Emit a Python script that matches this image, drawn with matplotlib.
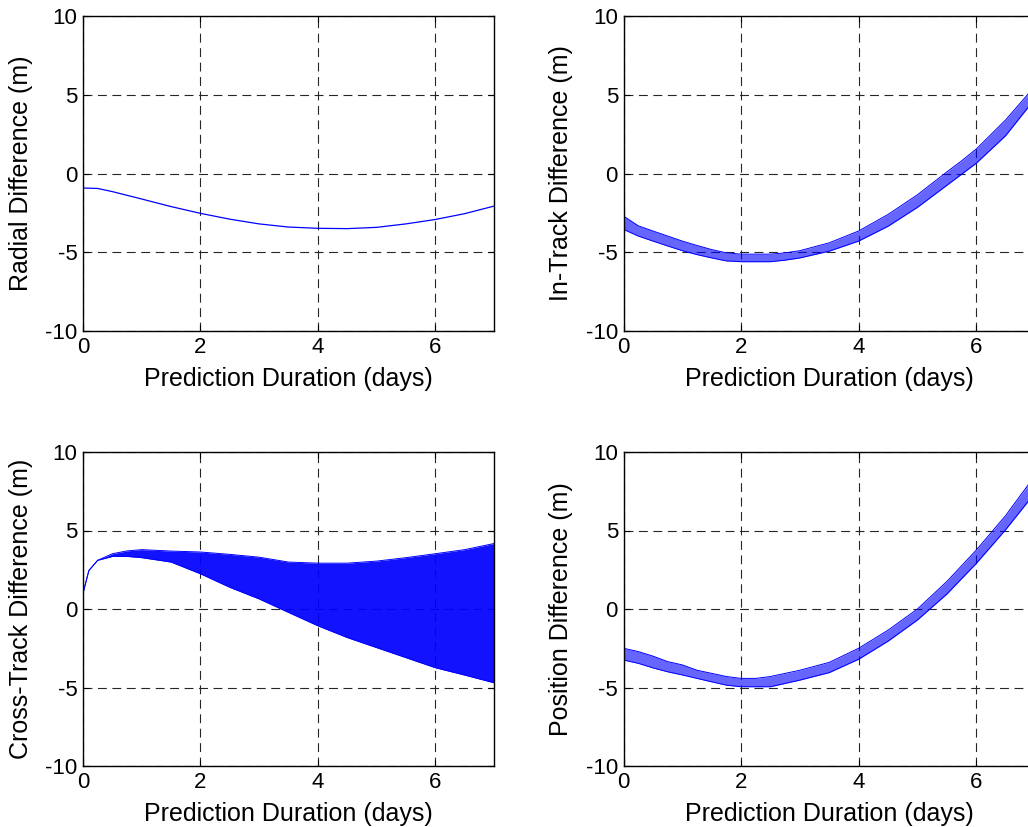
import matplotlib
matplotlib.use('Agg')
import matplotlib.pyplot as plt

plt.rcParams['font.family'] = ['Liberation Sans', 'DejaVu Sans']
plt.rcParams['axes.unicode_minus'] = False

# radial difference (m)
radial_days = [0, 0.25, 0.5, 1, 1.5, 2, 2.5, 3, 3.5, 4, 4.5, 5, 5.5, 6, 6.5, 7]
radial = [-0.92, -0.95, -1.15, -1.62, -2.1, -2.53, -2.9, -3.2, -3.4, -3.48, -3.5, -3.42, -3.2, -2.92, -2.55, -2.07]

# in-track difference (m): upper / lower edge of the oscillation band
intrack_days = [0, 0.25, 0.5, 0.75, 1, 1.25, 1.5, 1.75, 2, 2.5, 2.75, 3, 3.5, 4, 4.5, 5, 5.5, 5.75, 6, 6.5, 7]
intrack_hi = [-2.7, -3.32, -3.65, -3.97, -4.29, -4.57, -4.83, -5.04, -5.12, -5.12, -5.04, -4.9, -4.4, -3.65,
              -2.6, -1.35, 0.1, 0.8, 1.55, 3.4, 5.55]
intrack_lo = [-3.55, -3.97, -4.29, -4.6, -4.9, -5.15, -5.36, -5.55, -5.6, -5.6, -5.5, -5.36, -4.93, -4.29,
              -3.35, -2.15, -0.75, -0.05, 0.65, 2.4, 4.75]

# cross-track difference (m)
cross_days = [0, 0.1, 0.25, 0.5, 0.75, 1, 1.5, 2, 2.5, 3, 3.5, 4, 4.5, 5, 5.5, 6, 6.5, 7]
cross_hi = [1.0, 2.45, 3.1, 3.52, 3.7, 3.78, 3.69, 3.63, 3.48, 3.3, 2.99, 2.92, 2.92, 3.05, 3.27, 3.52, 3.78, 4.17]
cross_lo = [1.0, 2.45, 3.1, 3.35, 3.35, 3.27, 2.99, 2.24, 1.38, 0.64, -0.22, -1.07, -1.82, -2.46, -3.1, -3.74, -4.21, -4.7]

# total position difference (m)
pos_days = [0, 0.25, 0.5, 0.75, 1, 1.25, 1.5, 1.75, 2, 2.25, 2.5, 2.75, 3, 3.5, 4, 4.5, 5, 5.5, 6, 6.5, 7]
pos_hi = [-2.5, -2.71, -3.0, -3.35, -3.56, -3.9, -4.1, -4.3, -4.42, -4.42, -4.3, -4.1, -3.9, -3.4, -2.5,
          -1.35, 0.0, 1.75, 3.75, 5.95, 8.5]
pos_lo = [-3.25, -3.46, -3.75, -4.0, -4.2, -4.42, -4.64, -4.85, -4.95, -4.95, -4.95, -4.74, -4.53, -4.05, -3.2,
          -2.05, -0.7, 0.95, 2.9, 5.05, 7.4]

xticks = [0, 2, 4, 6]
yticks = [-10, -5, 0, 5, 10]

W, H = 1028, 827
fig = plt.figure(figsize=(W / 100, H / 100), dpi=100)


def make_axes(left, top, right, bottom, ylabel):
    ax = fig.add_axes([left / W, 1 - bottom / H, (right - left) / W, (bottom - top) / H])
    ax.set_xlim(0, 7)
    ax.set_ylim(-10, 10)
    ax.set_xticks(xticks)
    ax.set_yticks(yticks)
    ax.grid(True, color='0.15', lw=0.8, ls=(0, (8, 5)))
    ax.set_axisbelow(True)
    ax.tick_params(direction='in', length=4, width=0.8, top=True, right=True,
                   labelsize=16, pad=4)
    for s in ax.spines.values():
        s.set_linewidth(1.0)
    ax.set_xlabel('Prediction Duration (days)', fontsize=18, labelpad=7)
    ax.set_ylabel(ylabel, fontsize=18, labelpad=9)
    return ax


def band(ax, days, lo, hi, alpha):
    ax.fill_between(days, lo, hi, color='b', lw=0, alpha=alpha)
    ax.plot(days, hi, color='b', lw=0.7)
    ax.plot(days, lo, color='b', lw=0.7)


ax1 = make_axes(83, 16, 494, 331, 'Radial Difference (m)')
ax1.plot(radial_days, radial, color='b', lw=0.9)

ax2 = make_axes(623.5, 16, 1035, 331, 'In-Track Difference (m)')
band(ax2, intrack_days, intrack_lo, intrack_hi, 0.6)

ax3 = make_axes(83, 452, 494, 766, 'Cross-Track Difference (m)')
band(ax3, cross_days, cross_lo, cross_hi, 0.93)

ax4 = make_axes(623.5, 452, 1035, 766, 'Position Difference (m)')
band(ax4, pos_days, pos_lo, pos_hi, 0.6)

fig.savefig('out.png', dpi=100)
